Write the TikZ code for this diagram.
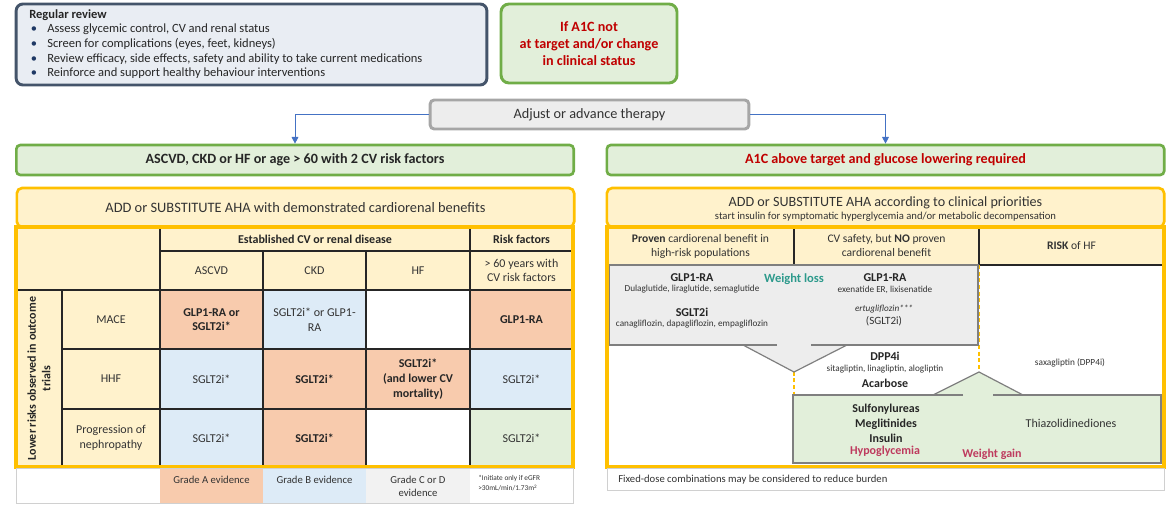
\documentclass[tikz,border=0pt]{standalone}
\usepackage{fontspec}
\setmainfont{Carlito}
\usetikzlibrary{arrows.meta}

\definecolor{navyline}{HTML}{44546A}
\definecolor{navyfill}{HTML}{E9EDF3}
\definecolor{navydot}{HTML}{1F3864}
\definecolor{leafline}{HTML}{70AD47}
\definecolor{leaffill}{HTML}{E2EFDA}
\definecolor{alertred}{HTML}{C00000}
\definecolor{stoneline}{HTML}{A6A6A6}
\definecolor{stonefill}{HTML}{EDEDED}
\definecolor{amber}{HTML}{FFC000}
\definecolor{amberfill}{HTML}{FFF2CC}
\definecolor{salmon}{HTML}{F8CBAD}
\definecolor{skyfill}{HTML}{DDEBF7}
\definecolor{mistfill}{HTML}{F2F2F2}
\definecolor{inkgray}{HTML}{333333}
\definecolor{rulegray}{HTML}{262626}
\definecolor{calloutline}{HTML}{7F7F7F}
\definecolor{flowblue}{HTML}{4472C4}
\definecolor{tealtext}{HTML}{2D9A8C}
\definecolor{berry}{HTML}{BE3A5E}
\definecolor{legendline}{HTML}{D0D0D0}

\newcommand{\dotmark}{\makebox[13.5pt][l]{\hspace{1.2pt}\textcolor{navydot}{\textbullet}}}

\begin{document}
\begin{tikzpicture}[x=0.75pt,y=-0.75pt,
  every node/.style={inner sep=0pt,align=center,text=inkgray,font=\fontsize{9}{11}\selectfont},
  reviewline/.style={anchor=base west,text=rulegray,font=\fontsize{9.4}{11}\selectfont},
  tiny/.style={font=\fontsize{6.9}{8}\selectfont},
  drug/.style={text=rulegray,font=\bfseries\fontsize{9}{11}\selectfont},
  greenbar/.style={draw=leafline,line width=2pt,fill=leaffill,rounded corners=3pt,minimum width=418pt,minimum height=22.5pt,text=rulegray,font=\bfseries\fontsize{10.6}{12}\selectfont},
  amberbox/.style={draw=amber,line width=2pt,fill=amberfill,rounded corners=4pt,minimum width=418pt,minimum height=29.25pt,font=\fontsize{10.8}{12}\selectfont},
  gridline/.style={draw=rulegray,line width=0.9pt},
  dashcol/.style={draw=amber,line width=1.2pt,dash pattern=on 3pt off 2pt},
  flow/.style={draw=flowblue,line width=0.7pt,-{Triangle[width=5pt,length=5pt]}}]

\useasboundingbox (0,0) rectangle (1166,506);

\node[draw=navyline,line width=2.2pt,fill=navyfill,rounded corners=5pt,minimum width=353pt,minimum height=60.75pt] (review) at (251.5,44.5) {};
\node[reviewline] (rvhead) at (29,18.5) {\bfseries Regular review};
\node[reviewline] (rvone) at (29,32.5) {\dotmark Assess glycemic control, CV and renal status};
\node[reviewline] (rvtwo) at (29,47.5) {\dotmark Screen for complications (eyes, feet, kidneys)};
\node[reviewline] (rvthree) at (29,62.5) {\dotmark Review efficacy, side effects, safety and ability to take current medications};
\node[reviewline] (rvfour) at (29,76.5) {\dotmark Reinforce and support healthy behaviour interventions};

\node[draw=leafline,line width=2.2pt,fill=leaffill,rounded corners=6pt,minimum width=132pt,minimum height=59.25pt,text=alertred,font=\bfseries\fontsize{10.6}{12.75}\selectfont] (trigger) at (589,43.5) {If A1C not\\at target and/or change\\in clinical status};

\node[draw=stoneline,line width=2.2pt,fill=stonefill,rounded corners=3pt,minimum width=239pt,minimum height=21.75pt,font=\fontsize{10.7}{13}\selectfont] (adjust) at (589.5,114.5) {Adjust or advance therapy};

\node[greenbar] (ascvd) at (295,160) {ASCVD, CKD or HF or age > 60 with 2 CV risk factors};
\node[greenbar,text=alertred] (glucose) at (885.5,160) {A1C above target and glucose lowering required};
\path[flow] (adjust.west) -| (ascvd.north);
\path[flow] (adjust.east) -| (glucose.north);

\node[amberbox] (leftaha) at (295.5,207.5) {ADD or SUBSTITUTE AHA with demonstrated cardiorenal benefits};
\node[amberbox] (rightaha) at (885.5,207.5) {};
\node[font=\fontsize{10.6}{12}\selectfont] (rightahatitle) at (885.5,203) {ADD or SUBSTITUTE AHA according to clinical priorities};
\node[font=\fontsize{8}{9}\selectfont] (rightahanote) at (885.5,216.5) {start insulin for symptomatic hyperglycemia and/or metabolic decompensation};

\path[fill=amberfill] (16,227) rectangle (573,290);
\path[fill=amberfill] (16,290) rectangle (160,467);
\path[fill=salmon] (160,290) rectangle (263,349);
\path[fill=skyfill] (263,290) rectangle (366,349);
\path[fill=salmon] (470,290) rectangle (573,349);
\path[fill=skyfill] (160,349) rectangle (263,409);
\path[fill=salmon] (263,349) rectangle (470,409);
\path[fill=skyfill] (470,349) rectangle (573,409);
\path[fill=skyfill] (160,409) rectangle (263,467);
\path[fill=salmon] (263,409) rectangle (366,467);
\path[fill=leaffill] (470,409) rectangle (573,467);

\path[gridline] (160,227) -- (160,467);
\path[gridline] (470,227) -- (470,467);
\path[gridline] (263,251) -- (263,467);
\path[gridline] (366,251) -- (366,467);
\path[gridline] (62,290) -- (62,467);
\path[gridline] (160,251) -- (573,251);
\path[gridline] (16,290) -- (573,290);
\path[gridline] (62,349) -- (573,349);
\path[gridline] (62,409) -- (573,409);
\path[draw=amber,line width=2.4pt] (16,227) rectangle (573,467);

\node[drug] (established) at (315,239) {Established CV or renal disease};
\node[drug] (riskfactors) at (521.5,239) {Risk factors};
\node (colascvd) at (211.5,270.5) {ASCVD};
\node (colckd) at (314.5,270.5) {CKD};
\node (colhf) at (418,270.5) {HF};
\node (colage) at (521.5,270.5) {> 60 years with\\CV risk factors};
\node[rotate=90,drug] (lowerrisk) at (39,378.5) {Lower risks observed in outcome\\trials};
\node (rowmace) at (111,319.5) {MACE};
\node (rowhhf) at (111,379) {HHF};
\node (rowneph) at (111,438) {Progression of\\nephropathy};

\node[drug] (maceascvd) at (211.5,319.5) {GLP1-RA or\\SGLT2i*};
\node (maceckd) at (314.5,319.5) {SGLT2i* or GLP1-\\RA};
\node[drug] (macerisk) at (521.5,319.5) {GLP1-RA};
\node (hhfascvd) at (211.5,379) {SGLT2i*};
\node[drug] (hhfckd) at (314.5,379) {SGLT2i*};
\node[drug] (hhfhf) at (418,379) {SGLT2i*\\(and lower CV\\mortality)};
\node (hhfrisk) at (521.5,379) {SGLT2i*};
\node (nephascvd) at (211.5,438) {SGLT2i*};
\node[drug] (nephckd) at (314.5,438) {SGLT2i*};
\node (nephrisk) at (521.5,438) {SGLT2i*};

\path[fill=salmon] (160,468) rectangle (263,503);
\path[fill=skyfill] (263,468) rectangle (366,503);
\path[fill=mistfill] (366,468) rectangle (470,503);
\path[draw=legendline,line width=0.6pt] (16,468) rectangle (573,503);
\node[font=\fontsize{8}{9.75}\selectfont] (gradea) at (211.5,480) {Grade A evidence};
\node[font=\fontsize{8}{9.75}\selectfont] (gradeb) at (314.5,480) {Grade B evidence};
\node[font=\fontsize{8}{9.75}\selectfont] (gradecd) at (418,486.5) {Grade C or D\\evidence};
\node[anchor=west,align=left,font=\fontsize{5.5}{7.5}\selectfont] (egfr) at (478,483.5) {*Initiate only if eGFR\\>30mL/min/1.73m\textsuperscript{2}};

\path[fill=amberfill] (607,227) rectangle (1164,265);
\path[gridline] (794,227) -- (794,265);
\path[gridline] (979,227) -- (979,265);
\path[gridline] (607,265) -- (1164,265);
\path[dashcol] (794,265) -- (794,467);
\path[dashcol] (979,265) -- (979,467);

\node[font=\fontsize{8.7}{10.5}\selectfont] (proven) at (700.5,246) {\textbf{Proven} cardiorenal benefit in\\high-risk populations};
\node[font=\fontsize{8.7}{10.5}\selectfont] (cvsafety) at (886.5,246) {CV safety, but \textbf{NO} proven\\cardiorenal benefit};
\node[font=\fontsize{8.7}{10.5}\selectfont] (hfrisk) at (1071.5,246) {\textbf{RISK} of HF};

\path[fill=stonefill] (609,265) -- (978,265) -- (978,345) -- (847,345) -- (794,372) -- (743,345) -- (609,345) -- cycle;
\path[draw=calloutline,line width=0.9pt] (777,345) -- (609,345) -- (609,265) -- (978,265) -- (978,345) -- (811,345);
\path[draw=calloutline,line width=0.9pt] (743,345) -- (794,372) -- (847,345);

\node[drug] (glpone) at (692,278) {GLP1-RA};
\node[tiny] (glponelist) at (692,289.5) {Dulaglutide, liraglutide, semaglutide};
\node[text=tealtext,font=\bfseries\fontsize{9.4}{11}\selectfont] (weightloss) at (794,279) {Weight loss};
\node[drug] (glptwo) at (885,278) {GLP1-RA};
\node[tiny] (glptwolist) at (885,289.5) {exenatide ER, lixisenatide};
\node[drug] (sglt) at (692,312) {SGLT2i};
\node[tiny] (sgltlist) at (692,324) {canagliflozin, dapagliflozin, empagliflozin};
\node[tiny,font=\itshape\fontsize{6.9}{8}\selectfont] (ertu) at (884,309.5) {ertugliflozin***};
\node[font=\fontsize{8.3}{10}\selectfont] (ertuclass) at (884,321.5) {(SGLT2i)};

\path[fill=leaffill] (793,395) -- (933,395) -- (979,372) -- (1023,395) -- (1161,395) -- (1161,463) -- (793,463) -- cycle;
\path[draw=calloutline,line width=0.9pt] (963,395) -- (793,395) -- (793,463) -- (1161,463) -- (1161,395) -- (993,395);
\path[draw=calloutline,line width=0.9pt] (933,395) -- (979,372) -- (1023,395);

\node[drug] (dpp) at (885,356) {DPP4i};
\node[tiny] (dpplist) at (885,369) {sitagliptin, linagliptin, alogliptin};
\node[drug] (acarbose) at (885,383) {Acarbose};
\node[font=\fontsize{7}{8.5}\selectfont] (saxa) at (1070,363) {saxagliptin (DPP4i)};
\node[drug] (sulfonyl) at (886,409) {Sulfonylureas};
\node[drug] (meglit) at (886,424) {Meglitinides};
\node[drug] (insulin) at (886,438) {Insulin};
\node[drug,text=berry] (hypo) at (885,451) {Hypoglycemia};
\node[drug,text=berry] (weightgain) at (992,454) {Weight gain};
\node (tzd) at (1071,423) {Thiazolidinediones};

\path[draw=amber,line width=2.4pt] (607,227) rectangle (1164,467);
\path[draw=legendline,line width=0.6pt] (607,468) rectangle (1164,490);
\node[anchor=west,font=\fontsize{8}{9.75}\selectfont] (fixeddose) at (618,480) {Fixed-dose combinations may be considered to reduce burden};
\end{tikzpicture}
\end{document}
